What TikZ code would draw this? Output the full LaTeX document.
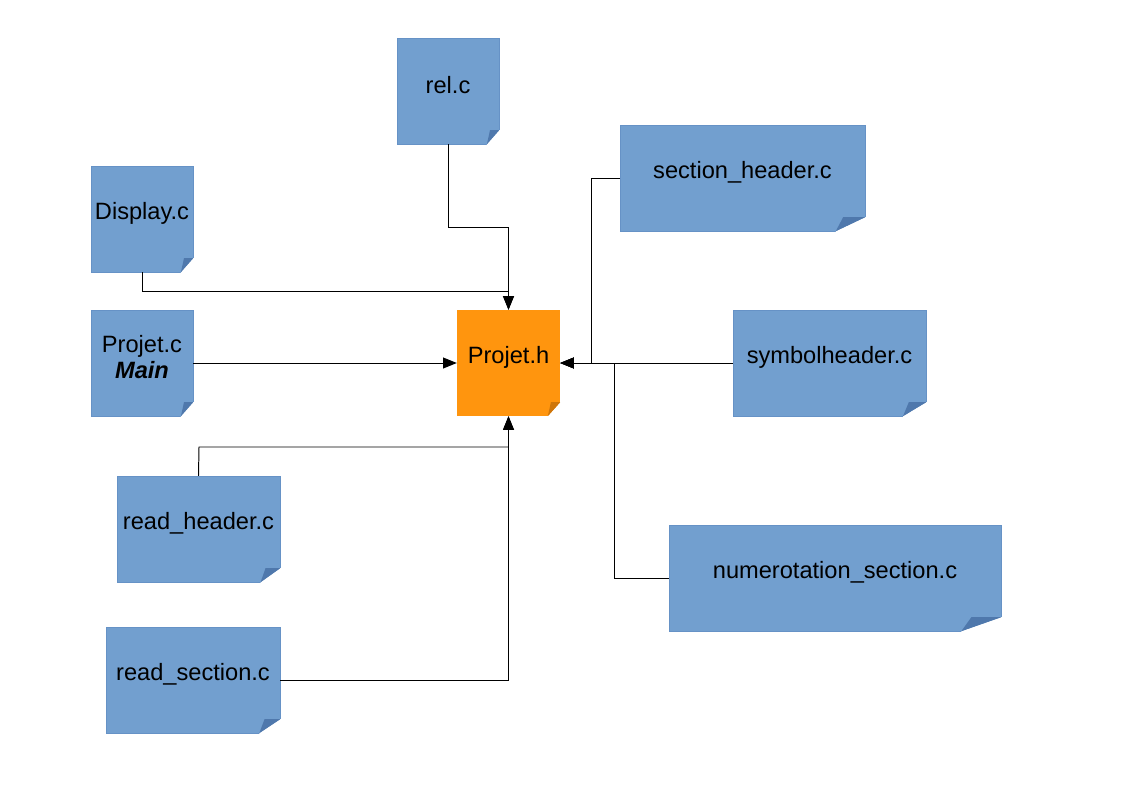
\documentclass[tikz,border=0pt]{standalone}
\usepackage{fontspec}
\setmainfont{Liberation Sans}
\usetikzlibrary{arrows.meta,calc}
\newcommand\px{0.025cm}
\definecolor{noteblue}{HTML}{729FCF}
\definecolor{noteedge}{HTML}{6692C6}
\definecolor{notefold}{HTML}{4F78AC}
\definecolor{noteorange}{HTML}{FF950E}
\definecolor{orangefold}{HTML}{CF760A}
% curled corner at the bottom right of a note
\newcommand\fold[2][notefold]{%
  \fill[white] ($(#2.south east)+(0,-14)$) -- ($(#2.south east)+(2,-14)$)
     -- ($(#2.south east)+(2,2)$) -- ($(#2.south east)!0.12!(#2.south west)+(0,2)$)
     -- ($(#2.south east)!0.12!(#2.south west)$) -- cycle;
  \fill[#1] ($(#2.south east)+(0,-14)$)
     -- ($(#2.south east)!0.09!(#2.south west)+(0,-14)$)
     -- ($(#2.south east)!0.12!(#2.south west)$) -- cycle;
}

\begin{document}
\begin{tikzpicture}[x=\px,y=-\px,
    note/.style={draw=noteedge,line width=0.3pt,fill=noteblue,
      minimum height=106*\px,inner sep=0pt},
    caption/.style={align=center,yshift=6*\px,inner sep=0pt,
      font=\fontsize{16.8}{20}\selectfont},
    link/.style={line width=0.7pt,-{Triangle[length=0.34cm,width=0.27cm]}}]
    \useasboundingbox (0,0) rectangle (1123,794);
    \node (rel) at (448,91) [note,minimum width=102*\px,label={[caption]center:rel.c}] {}; % top
    \node (disp) at (142,219) [note,minimum width=102*\px,label={[caption]center:Display.c}] {};
    \node (main) at (142,363) [note,minimum width=102*\px,
      label={[caption]center:Projet.c\\[-2pt]\textbf{\textit{Main}}}] {};
    \node (projh) at (508.5,363) [note,draw=none,fill=noteorange,minimum width=103*\px,
      label={[caption]center:Projet.h}] {}; % hub
    \node (rhead) at (198.5,529) [note,minimum width=163*\px,label={[caption]center:read\_header.c}] {};
    \node (rsec) at (193,680) [note,minimum width=174*\px,label={[caption]center:read\_section.c}] {};
    \node (sechead) at (742.5,178) [note,minimum width=245*\px,label={[caption]center:section\_header.c}] {};
    \node (symh) at (829.5,363) [note,minimum width=193*\px,label={[caption]center:symbolheader.c}] {};
    \node (numsec) at (835,578) [note,minimum width=332*\px,label={[caption]center:numerotation\_section.c}] {};
    \fold{rel} \fold{disp} \fold{main} \fold[orangefold]{projh}
    \fold{rhead} \fold{rsec} \fold{sechead} \fold{symh} \fold{numsec}
    \coordinate (j1) at (448,227);
    \coordinate (j2) at (142,291);
    \coordinate (j3) at (199,447);
    \coordinate (j4) at (591,178);
    \coordinate (j5) at (614,578);
    \draw[link] (rel.south) -- (j1) -| (projh.north);
    \draw[link] (disp.south) -- (j2) -| (projh.north);
    \draw[link] (main) -- (projh);
    \draw[link] (rhead.north) -- (j3) -| (projh.south);
    \draw[link] (rsec.east) -| (projh.south);
    \draw[link] (sechead.west) -- (j4) |- (projh.east);
    \draw[link] (symh) -- (projh);
    \draw[link] (numsec.west) -- (j5) |- (projh.east);
\end{tikzpicture}
\end{document}
